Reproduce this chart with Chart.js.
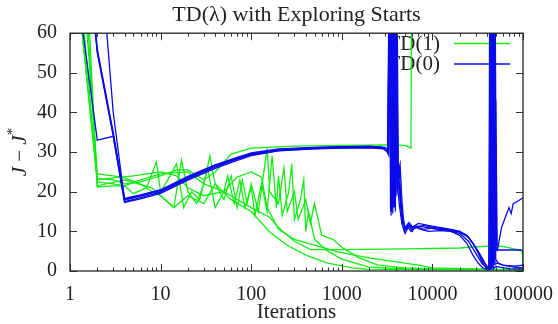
<!DOCTYPE html>
<html>
<head>
<meta charset="utf-8">
<script src="https://cdn.jsdelivr.net/npm/chart.js@4.4.1/dist/chart.umd.min.js"></script>
<style>
  html, body { margin: 0; padding: 0; background: #fff; }
  #wrap { width: 558px; height: 324px; }
</style>
</head>
<body>
<div id="wrap"><canvas id="tdChart" width="558" height="324"></canvas></div>
<script>
// tick labels
var xTickLabels = [1, 10, 100, 1000, 10000, 100000];
var yTickLabels = [0, 10, 20, 30, 40, 50, 60];

// TD(0) runs (blue)
var b1It = [1,2,3,4,6,10,20,40,70,100,200,500,1000,2000,2800,3100,3300,3400,3500,3600,3700,3800,3900,4000,4200,4400,4600,4800,5000,5500,6000,6500,7000,8000,10000,15000,20000,25000,30000,35000,40000,43000,44000,45000,46000,48000,50000,52000,58000,70000,74000,78000,90000,100000];
var b1 = [126,55,34,17.5,18.5,19.9,23.2,26.2,28.2,29.3,30.4,30.9,31.1,31.2,31.0,30.4,29.2,80,15,80,16,75,18,60,25,27,18,13,10.5,11.5,10,11.5,11,10.5,10.8,10.2,9.5,7.5,4.5,2,0.7,0.5,80,5,80,10,43,5,11,16,14.5,17,17.8,18.5];

var b2It = [1,2,3,4,6,10,20,40,70,100,200,500,1000,2000,2700,3000,3250,3350,3450,3550,3650,3750,3850,3950,4100,4300,4500,4700,4900,5200,5600,6200,7000,8000,10000,15000,20000,25000,30000,35000,40000,45000,47000,48000,49000,50000,51000,60000,95000,100000];
var b2 = [150,90,40,18,19,20.3,23.6,26.6,28.5,29.6,30.6,31.1,31.3,31.4,31.3,30.8,29.8,80,16,80,14.5,80,17,80,20,22,15,11.5,10,11,12,10.8,11.2,11.5,11,10.5,10,8.5,6,3,1.2,0.6,80,2,80,42,5.3,5.3,5.3,5];

var b3It = [1,2,3,4,6,10,20,40,70,100,200,500,1000,2000,2900,3200,3400,3500,3600,3700,3800,3900,4000,4100,4300,4600,5000,5400,5800,6500,7500,9000,12000,16000,20000,24000,28000,32000,36000,40000,42000,43000,44000,46000,47000,52000,60000,80000,100000];
var b3 = [85,33,34,17.3,18.2,19.6,22.9,25.9,27.9,29.1,30.3,30.8,31,31.1,30.8,30,80,14,80,17,80,15,42,22,17,12,9.5,11,10,11,10.5,10,10.2,10,9,7,4,2,0.8,0.4,0.3,80,0.5,80,1.5,2,1.5,1,0.8];

var b4It = [1,2,3,4,6,10,20,40,70,100,200,500,1000,2000,3000,3300,3450,3550,3650,3750,3850,3950,4050,4200,4500,4800,5100,5500,6000,7000,8500,11000,15000,20000,25000,30000,35000,38000,41000,44000,45000,46000,48000,50000,53000,60000,80000,100000];
var b4 = [130,56,35,18.3,19.2,20.5,23.9,26.8,28.7,29.8,30.8,31.2,31.4,31.5,31.2,30.5,80,15.5,80,16.5,62,19,80,24,16,12,10.5,11.8,10.5,11.3,11,10.6,10.3,9.8,8.5,6,3.5,2,0.8,0.5,80,0.8,80,3,2,1.5,1.2,1.5];

var b5It = [1,2,3,4,6,10,20,40,70,100,200,500,1000,2000,2900,3200,3350,3500,3650,3800,3950,4100,4300,4600,5000,5500,6000,7000,9000,12000,16000,20000,24000,28000,32000,36000,40000,42000,44000,47000,50000,55000,70000,100000];
var b5 = [128,55.5,34.5,17.9,18.9,20.2,23.5,26.5,28.4,29.5,30.6,31,31.2,31.3,31,30.2,80,15,80,16,80,20,26,14,11,12.2,11,12,11.5,11,10.5,10,9,7,4.5,2,0.6,0.4,80,0.5,1.2,1,0.6,0.5];

// TD(1) runs (green)
var g1It = [1,2,3,4,6,10,15,20,30,40,60,100,300,1000,3000,5000,5800,5900,100000];
var g1 = [90,23.3,23,22,22.5,24,25.5,25.5,23,25,29.5,31,31.5,31.7,31.8,31.7,31,80,80];

var g2It = [1,2,3,4,6,10,20,30,50,100,161,200,300,450,1000,5000,20000,40000,60000,90000,98000,100000];
var g2 = [160,21.2,21.5,21.5,23,24.5,25,22,20,16,13.5,11,7.5,5.4,5.4,5.6,5.8,6.3,6.2,5.3,5,0.5];

var g3It = [1,2,3,4,6,8,10,14,17,20,25,30,35,40,50,60,70,80,90,100,120,150,160,200,230,250,300,330,400,450,500,600,800,1000,1500,2500,5000,10000,30000,100000];
var g3 = [120,24.5,24,23.5,22,20,19,16,28,20,17,22,29,22,18,24,16,23,17,22,15,31,20,17,26,15,20,13,18,12,17,9,8,6,3.5,1.5,0.8,0.5,0.4,0.3];

var g4It = [1,2,3,4,5,7,9,10,12,15,18,22,27,33,40,50,55,65,75,85,100,110,130,150,170,190,200,220,260,280,300,350,380,400,430,500,700,1000,2000,5000,100000];
var g4 = [90,22.5,22,21.5,19.5,21,27.5,20,23,27,16,20,18,26,16,20,24,17,23,16,21,14,22,15,29,16,24,14,20,27,13,18,23,10,15,8,5,3,1,0.5,0.3];

var g5It = [1,2,3,5,10,15,20,30,50,70,100,130,150,200,300,600,900,2000,7000,10000,100000];
var g5 = [100,23,23.5,24,25,24,21,19,20,23.7,25,23.7,16,10.5,8,6,4.8,3.3,1.5,0.8,0.3];

var g6It = [1,2,4,8,14,20,30,40,60,100,161,250,400,700,1300,2000,100000];
var g6 = [140,21.5,23,21,16,19,17,22,18,15,9.8,6.5,4,2,0.8,0.4,0.3];

var blueRuns = [[b1It, b1], [b2It, b2], [b3It, b3], [b4It, b4], [b5It, b5]];
var greenRuns = [[g1It, g1], [g2It, g2], [g3It, g3], [g4It, g4], [g5It, g5], [g6It, g6]];

var GREEN = 'rgb(20,235,20)';
var BLUE = 'rgb(10,10,235)';
var SERIF = '"Liberation Serif", "Times New Roman", serif';

function toPoints(its, vals) {
  return its.map(function (x, i) { return { x: x, y: vals[i] }; });
}

var datasets = [];
greenRuns.forEach(function (r) {
  datasets.push({ data: toPoints(r[0], r[1]), borderColor: GREEN, borderWidth: 1.3, order: 1 });
});
blueRuns.forEach(function (r) {
  datasets.push({ data: toPoints(r[0], r[1]), borderColor: BLUE, borderWidth: 1.3, order: 0 });
});

// gnuplot style frame, inward ticks, legend and y title
var gnuFrame = {
  id: 'gnuFrame',
  beforeDatasetsDraw: function (chart) {
    var ctx = chart.ctx;
    ctx.save();
    ctx.font = '21px ' + SERIF;
    ctx.fillStyle = '#222';
    ctx.textAlign = 'right';
    ctx.textBaseline = 'middle';
    ctx.fillText('TD(1)', 440, 44);
    ctx.fillText('TD(0)', 440, 64);
    ctx.lineWidth = 1.5;
    ctx.strokeStyle = GREEN;
    ctx.beginPath(); ctx.moveTo(454, 43.5); ctx.lineTo(510, 43.5); ctx.stroke();
    ctx.strokeStyle = BLUE;
    ctx.beginPath(); ctx.moveTo(454, 64); ctx.lineTo(510, 64); ctx.stroke();
    ctx.restore();
  },
  afterDatasetsDraw: function (chart) {
    var ctx = chart.ctx, a = chart.chartArea;
    var xs = chart.scales.x, ys = chart.scales.y;
    ctx.save();
    ctx.strokeStyle = '#333';
    ctx.lineWidth = 1;
    ctx.beginPath();
    for (var p = 0; p <= 5; p++) {
      for (var m = 1; m <= 9; m++) {
        var v = m * Math.pow(10, p);
        if (v > 100000) break;
        var px = Math.round(xs.getPixelForValue(v)) + 0.5;
        var len = m === 1 ? 7 : 3.5;
        ctx.moveTo(px, a.bottom); ctx.lineTo(px, a.bottom - len);
        ctx.moveTo(px, a.top); ctx.lineTo(px, a.top + len);
      }
    }
    yTickLabels.forEach(function (v) {
      var py = Math.round(ys.getPixelForValue(v)) + 0.5;
      ctx.moveTo(a.left, py); ctx.lineTo(a.left + 7, py);
      ctx.moveTo(a.right, py); ctx.lineTo(a.right - 7, py);
    });
    ctx.stroke();
    ctx.lineWidth = 1.3;
    ctx.strokeStyle = '#222';
    ctx.strokeRect(a.left, a.top, a.right - a.left, a.bottom - a.top);
    ctx.restore();
  },
  afterDraw: function (chart) {
    var ctx = chart.ctx, a = chart.chartArea;
    ctx.save();
    ctx.translate(20, (a.top + a.bottom) / 2);
    ctx.rotate(-Math.PI / 2);
    ctx.fillStyle = '#222';
    ctx.textBaseline = 'middle';
    var parts = [['italic 21px ' + SERIF, 'J', 0], ['21px ' + SERIF, ' \u2212 ', 0], ['italic 21px ' + SERIF, 'J', 0], ['15px ' + SERIF, '*', -7]];
    var total = 0;
    parts.forEach(function (t) { ctx.font = t[0]; total += ctx.measureText(t[1]).width; });
    var x = -total / 2;
    parts.forEach(function (t) {
      ctx.font = t[0];
      ctx.fillText(t[1], x, t[2]);
      x += ctx.measureText(t[1]).width;
    });
    ctx.restore();
  }
};

var ctx = document.getElementById('tdChart').getContext('2d');
var tdChart = new Chart(ctx, {
  type: 'line',
  data: { datasets: datasets },
  options: {
    responsive: false,
    animation: false,
    events: [],
    elements: { point: { radius: 0 }, line: { tension: 0 } },
    datasets: { line: { clip: 0, fill: false } },
    layout: { padding: { left: 0, right: 35, top: 0, bottom: 0 } },
    plugins: {
      legend: { display: false },
      tooltip: { enabled: false },
      title: {
        display: true,
        fullSize: false,
        text: 'TD(\u03bb) with Exploring Starts',
        color: '#222',
        font: { family: SERIF, size: 22, weight: 'normal', lineHeight: 1.1 },
        padding: { top: 3, bottom: 6 }
      }
    },
    scales: {
      x: {
        type: 'logarithmic',
        min: 1,
        max: 100000,
        grid: { display: false, drawTicks: false },
        border: { display: false },
        afterFit: function (s) { s.height = 53; s.paddingLeft = 0; s.paddingRight = 0; },
        afterBuildTicks: function (s) {
          s.ticks = xTickLabels.map(function (v) { return { value: v }; });
        },
        ticks: {
          autoSkip: false,
          maxRotation: 0,
          padding: 12,
          color: '#222',
          font: { family: SERIF, size: 20 },
          callback: function (v) { return String(v); }
        },
        title: {
          display: true,
          text: 'Iterations',
          color: '#222',
          font: { family: SERIF, size: 21, lineHeight: 1 },
          padding: { top: 0, bottom: 1 }
        }
      },
      y: {
        min: 0,
        max: 60,
        grid: { display: false, drawTicks: false },
        border: { display: false },
        afterFit: function (s) { s.width = 70; s.paddingTop = 0; s.paddingBottom = 0; },
        ticks: {
          stepSize: 10,
          padding: 13,
          color: '#222',
          font: { family: SERIF, size: 20 }
        }
      }
    }
  },
  plugins: [gnuFrame]
});
</script>
</body>
</html>
